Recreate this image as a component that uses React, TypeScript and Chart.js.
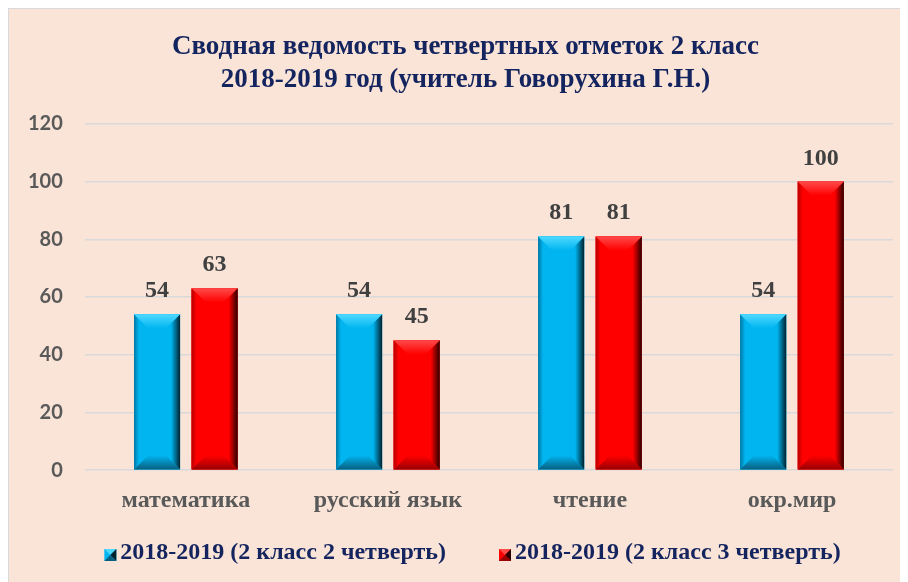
import React, { useEffect, useRef } from "react";
import { Chart, registerables } from "chart.js";

Chart.register(...registerables);

const categories = ["математика", "русский язык", "чтение", "окр.мир"];
const seriesNames = ["2018-2019 (2 класс 2 четверть)", "2018-2019 (2 класс 3 четверть)"];
const q2Values = [54, 54, 81, 54];
const q3Values = [63, 45, 81, 100];
const yTicks = [0, 20, 40, 60, 80, 100, 120];
const titleLines = ["Сводная ведомость четвертных отметок 2 класс", "2018-2019 год (учитель Говорухина Г.Н.)"];

const SERIF = "'Liberation Serif', 'Times New Roman', serif";
const NAVY = "#14245E";

const palettes = [
  { base: "#00B5F0", light: "#4FD9FF", dark: "#0A5F80", edge: "#00222F", left: "#0077A3" },
  { base: "#FF0000", light: "#FF4A4A", dark: "#9A0000", edge: "#2A0000", left: "#B80000" },
];

function drawBevel(ctx: CanvasRenderingContext2D, l: number, t: number, r: number, b: number, p: any) {
  const w = r - l;
  const h = b - t;
  const d = Math.min(14, w / 2 - 2, h / 2);
  ctx.save();
  ctx.fillStyle = p.base;
  ctx.fillRect(l, t, w, h);
  let g = ctx.createLinearGradient(l, 0, l + 5, 0);
  g.addColorStop(0, p.left);
  g.addColorStop(1, p.base);
  ctx.fillStyle = g;
  ctx.beginPath();
  ctx.moveTo(l, t); ctx.lineTo(l + d, t + d); ctx.lineTo(l + d, b - d); ctx.lineTo(l, b); ctx.closePath();
  ctx.fill();
  g = ctx.createLinearGradient(r - 9, 0, r, 0);
  g.addColorStop(0, p.base);
  g.addColorStop(1, p.edge);
  ctx.fillStyle = g;
  ctx.beginPath();
  ctx.moveTo(r, t); ctx.lineTo(r - d, t + d); ctx.lineTo(r - d, b - d); ctx.lineTo(r, b); ctx.closePath();
  ctx.fill();
  g = ctx.createLinearGradient(0, t, 0, t + d);
  g.addColorStop(0, p.light);
  g.addColorStop(1, p.base);
  ctx.fillStyle = g;
  ctx.beginPath();
  ctx.moveTo(l, t); ctx.lineTo(r, t); ctx.lineTo(r - d, t + d); ctx.lineTo(l + d, t + d); ctx.closePath();
  ctx.fill();
  g = ctx.createLinearGradient(0, b - d, 0, b);
  g.addColorStop(0, p.base);
  g.addColorStop(1, p.dark);
  ctx.fillStyle = g;
  ctx.beginPath();
  ctx.moveTo(l, b); ctx.lineTo(r, b); ctx.lineTo(r - d, b - d); ctx.lineTo(l + d, b - d); ctx.closePath();
  ctx.fill();
  ctx.restore();
}

function drawMarker(ctx: CanvasRenderingContext2D, x: number, y: number, s: number, p: any) {
  ctx.save();
  ctx.fillStyle = p.base;
  ctx.fillRect(x, y, s, s);
  const cx = x + s / 2, cy = y + s / 2;
  ctx.fillStyle = p.light;
  ctx.beginPath(); ctx.moveTo(x, y); ctx.lineTo(x + s, y); ctx.lineTo(cx, cy); ctx.closePath(); ctx.fill();
  ctx.fillStyle = p.edge;
  ctx.beginPath(); ctx.moveTo(x + s, y); ctx.lineTo(x + s, y + s); ctx.lineTo(cx, cy); ctx.closePath(); ctx.fill();
  ctx.fillStyle = p.dark;
  ctx.beginPath(); ctx.moveTo(x, y + s); ctx.lineTo(x + s, y + s); ctx.lineTo(cx, cy); ctx.closePath(); ctx.fill();
  ctx.restore();
}

const bevelPlugin = {
  id: "bevelBars",
  afterDatasetsDraw(chart: any) {
    const ctx = chart.ctx;
    chart.data.datasets.forEach((ds: any, i: number) => {
      const meta = chart.getDatasetMeta(i);
      meta.data.forEach((bar: any) => {
        const { x, y, base, width } = bar.getProps(["x", "y", "base", "width"], true);
        drawBevel(ctx, x - width / 2, y, x + width / 2, base, palettes[i]);
      });
    });
  },
};

const labelPlugin = {
  id: "valueLabels",
  afterDatasetsDraw(chart: any) {
    const ctx = chart.ctx;
    ctx.save();
    ctx.font = `bold 24px ${SERIF}`;
    ctx.fillStyle = "#404040";
    ctx.textAlign = "center";
    ctx.textBaseline = "alphabetic";
    chart.data.datasets.forEach((ds: any, i: number) => {
      const meta = chart.getDatasetMeta(i);
      meta.data.forEach((bar: any, j: number) => {
        ctx.fillText(String(ds.data[j]), bar.x, bar.y - 17);
      });
    });
    ctx.restore();
  },
};

const titlePlugin = {
  id: "customTitle",
  afterDraw(chart: any) {
    const ctx = chart.ctx;
    const tb = chart.titleBlock;
    ctx.save();
    ctx.font = `bold 27px ${SERIF}`;
    ctx.fillStyle = NAVY;
    ctx.textAlign = "center";
    ctx.textBaseline = "middle";
    const lh = 27 * 1.2;
    titleLines.forEach((t, i) => {
      ctx.fillText(t, chart.width / 2 + 7, tb.top + 20 + lh * (i + 0.5) + 2);
    });
    ctx.restore();
  },
};

const legendPlugin = {
  id: "customLegend",
  afterDraw(chart: any) {
    const ctx = chart.ctx;
    ctx.save();
    ctx.font = `bold 24px ${SERIF}`;
    ctx.textBaseline = "middle";
    ctx.textAlign = "left";
    const marker = 12, gap = 4, itemGap = 53;
    const widths = seriesNames.map((n) => ctx.measureText(n).width);
    const total = widths.reduce((a, b) => a + b, 0) + seriesNames.length * (marker + gap) + itemGap * (seriesNames.length - 1);
    let x = (chart.width - total) / 2 + 14;
    const y = chart.height - 29;
    seriesNames.forEach((n, i) => {
      drawMarker(ctx, x, y - 4, marker, palettes[i]);
      x += marker + gap;
      ctx.fillStyle = NAVY;
      ctx.fillText(n, x, y);
      x += widths[i] + itemGap;
    });
    ctx.restore();
  },
};

export default function App() {
  const ref = useRef<HTMLCanvasElement>(null);
  useEffect(() => {
    const chart = new Chart(ref.current!, {
      type: "bar",
      data: {
        labels: categories,
        datasets: [
          { label: seriesNames[0], data: q2Values, backgroundColor: palettes[0].base, borderWidth: 0, barPercentage: 0.8, categoryPercentage: 0.57 },
          { label: seriesNames[1], data: q3Values, backgroundColor: palettes[1].base, borderWidth: 0, barPercentage: 0.8, categoryPercentage: 0.57 },
        ],
      },
      options: {
        animation: false,
        responsive: false,
        maintainAspectRatio: false,
        layout: { padding: { left: -3, right: 15, top: 0, bottom: 59 } },
        plugins: {
          title: {
            display: true,
            text: titleLines,
            color: "rgba(0,0,0,0)",
            font: { family: SERIF, size: 27, weight: "bold", lineHeight: 1.2 },
            padding: { top: 20, bottom: 30 },
          },
          legend: { display: false },
          tooltip: { enabled: false },
        },
        scales: {
          x: {
            grid: { display: false },
            border: { display: false },
            ticks: {
              color: "#595959",
              font: { family: SERIF, size: 24, weight: "bold" },
              padding: 8,
              maxRotation: 0,
            },
          },
          y: {
            min: 0,
            max: 120,
            afterBuildTicks: (axis: any) => {
              axis.ticks = yTicks.map((v) => ({ value: v }));
            },
            grid: { color: "#D9D9D9", lineWidth: 1.5, drawTicks: false },
            border: { display: false },
            ticks: {
              color: "#595959",
              font: { family: "Lato, 'Liberation Sans', sans-serif", size: 20, weight: "bold" },
              padding: 22,
            },
          },
        },
      },
      plugins: [bevelPlugin, labelPlugin, titlePlugin, legendPlugin],
    });
    return () => chart.destroy();
  }, []);
  return (
    <div
      style={{
        width: 900,
        height: 574,
        background: "#FAE4D7",
        boxSizing: "border-box",
        borderLeft: "1px solid #D9D9D9",
        borderTop: "1px solid #D9D9D9",
        overflow: "hidden",
      }}
    >
      <canvas ref={ref} width={899} height={573} style={{ display: "block" }} />
    </div>
  );
}
